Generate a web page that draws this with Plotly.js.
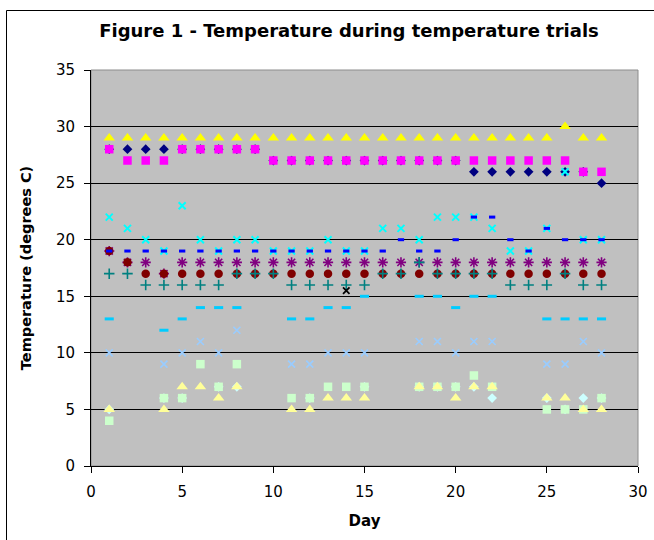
<!DOCTYPE html>
<html><head><meta charset="utf-8">
<script src="https://cdn.plot.ly/plotly-3.0.1.min.js"></script>
<style>html,body{margin:0;padding:0;background:#fff}#chart{width:654px;height:540px}</style>
</head><body><div id="chart"></div>
<script>
const days = [1,2,3,4,5,6,7,8,9,10,11,12,13,14,15,16,17,18,19,20,21,22,23,24,25,26,27,28];
const navyDiamond = [28,28,28,28,28,28,28,28,28,27,27,27,27,27,27,27,27,27,27,27,26,26,26,26,26,26,26,25];
const magentaSquare = [28,27,27,27,28,28,28,28,28,27,27,27,27,27,27,27,27,27,27,27,27,27,27,27,27,27,26,26];
const yellowTriangle = [29,29,29,29,29,29,29,29,29,29,29,29,29,29,29,29,29,29,29,29,29,29,29,29,29,30,29,29];
const cyanX = [22,21,20,19,23,20,19,20,20,19,19,19,20,19,19,21,21,20,22,22,22,21,19,19,21,26,20,20];
const purpleStar = [19,18,18,17,18,18,18,18,18,18,18,18,18,18,18,18,18,18,18,18,18,18,18,18,18,18,18,18];
const darkRedCircle = [19,18,17,17,17,17,17,17,17,17,17,17,17,17,17,17,17,17,17,17,17,17,17,17,17,17,17,17];
const tealPlus = [17,17,16,16,16,16,16,17,17,17,16,16,16,16,16,17,17,18,17,17,17,17,16,16,16,17,16,16];
const blueDash = [19,19,19,19,19,19,19,19,19,19,19,19,19,19,19,19,20,19,19,20,22,22,20,19,21,20,20,20];
const skyBlueDash = [13,null,null,12,13,14,14,14,null,null,13,13,14,14,15,null,null,15,15,14,15,15,null,null,13,13,13,13];
const turquoiseDiamond = [5,null,null,6,6,null,7,7,null,null,null,6,null,null,7,null,null,7,7,7,7,6,null,null,6,5,6,6];
const lightGreenSquare = [4,null,null,6,6,9,7,9,null,null,6,6,7,7,7,null,null,7,7,7,8,7,null,null,5,5,5,6];
const lightYellowTriangle = [5,null,null,5,7,7,6,7,null,null,5,5,6,6,6,null,null,7,7,6,7,7,null,null,6,6,5,5];
const paleBlueX = [10,null,null,9,10,11,10,12,null,null,9,9,10,10,10,null,null,11,11,10,11,11,null,null,9,9,11,10];
const extraDay = [14];
const extraValue = [15.5];

const FONT = 'DejaVu Sans, Arial, sans-serif';

function series(name, x, y, symbol, color, size, lw) {
  return {
    type: 'scatter', mode: 'markers', name: name, x: x, y: y,
    marker: { symbol: symbol, color: color, size: size,
              line: { color: color, width: lw } },
    hoverinfo: 'x+y'
  };
}

const traces = [
  series('Series 1', days, navyDiamond, 'diamond', '#000080', 7.5, 0),
  series('Series 2', days, magentaSquare, 'square', '#FF00FF', 8.5, 0),
  series('Series 3', days, yellowTriangle, 'triangle-up', '#FFFF00', 10, 0),
  series('Series 4', days, cyanX, 'x-thin-open', '#00FFFF', 7, 2),
  series('Series 5', days, purpleStar, 'asterisk-open', '#800080', 8.5, 1.6),
  series('Series 6', days, darkRedCircle, 'circle', '#800000', 8.5, 0),
  series('Series 7', days, tealPlus, 'cross-thin-open', '#008080', 7.5, 1.6),
  series('Series 8', days, blueDash, 'line-ew-open', '#0000FF', 4.5, 3),
  series('Series 9', days, skyBlueDash, 'line-ew-open', '#00CCFF', 6.5, 3),
  series('Series 10', days, turquoiseDiamond, 'diamond', '#CCFFFF', 7.5, 0),
  series('Series 11', days, lightGreenSquare, 'square', '#CCFFCC', 8.5, 0),
  series('Series 12', days, lightYellowTriangle, 'triangle-up', '#FFFF99', 10, 0),
  series('Series 13', days, paleBlueX, 'x-thin-open', '#99CCFF', 7, 1.6),
  series('Series 14', extraDay, extraValue, 'x-thin-open', '#000000', 6.5, 1.8)
];

const W = 654, H = 540, L = 91, T = 70, R = 16, B = 74;
const pw = W - L - R, ph = H - T - B;
const px = v => (v - L) / pw;
const py = v => (H - B - v) / ph;

const layout = {
  width: W, height: H,
  margin: { l: L, r: R, t: T, b: B, pad: 0 },
  paper_bgcolor: '#FFFFFF',
  plot_bgcolor: '#C0C0C0',
  showlegend: false,
  font: { family: FONT, size: 15, color: '#000' },
  title: {
    text: '<b>Figure 1 - Temperature during temperature trials</b>',
    font: { family: FONT, size: 18, color: '#000' },
    x: 349 / W, xanchor: 'center', xref: 'container',
    y: 1 - 31 / H, yanchor: 'middle', yref: 'container'
  },
  xaxis: {
    range: [0, 30], tickmode: 'linear', tick0: 0, dtick: 5,
    showgrid: false, zeroline: false,
    showline: true, linecolor: '#000', linewidth: 1,
    ticks: 'outside', ticklen: 6, tickcolor: '#000', tickwidth: 1,
    tickfont: { family: FONT, size: 15, color: '#000' },
    ticklabelstandoff: 6,
    title: { text: '<b>Day</b>', font: { family: FONT, size: 15, color: '#000' }, standoff: 15 },
    fixedrange: true
  },
  yaxis: {
    range: [0, 35], tickmode: 'linear', tick0: 0, dtick: 5,
    showgrid: true, gridcolor: '#000', gridwidth: 1,
    zeroline: false,
    showline: true, linecolor: '#000', linewidth: 1,
    ticks: 'outside', ticklen: 6, tickcolor: '#000', tickwidth: 1,
    tickfont: { family: FONT, size: 15, color: '#000' },
    ticklabelstandoff: 6,
    title: { text: '<b>Temperature (degrees C)</b>', font: { family: FONT, size: 14.5, color: '#000' }, standoff: 20 },
    fixedrange: true
  },
  shapes: [
    { type: 'rect', xref: 'paper', yref: 'paper', x0: 0, x1: 1, y0: 0, y1: 1,
      line: { color: '#8C8C8C', width: 1 }, layer: 'below' },
    { type: 'rect', xref: 'paper', yref: 'paper', x0: px(6.5), x1: px(662), y0: py(548), y1: py(10.5),
      line: { color: '#000', width: 1 }, fillcolor: 'rgba(0,0,0,0)', layer: 'above' }
  ]
};

Plotly.newPlot('chart', traces, layout, { displayModeBar: false, staticPlot: true });
</script>
</body></html>
